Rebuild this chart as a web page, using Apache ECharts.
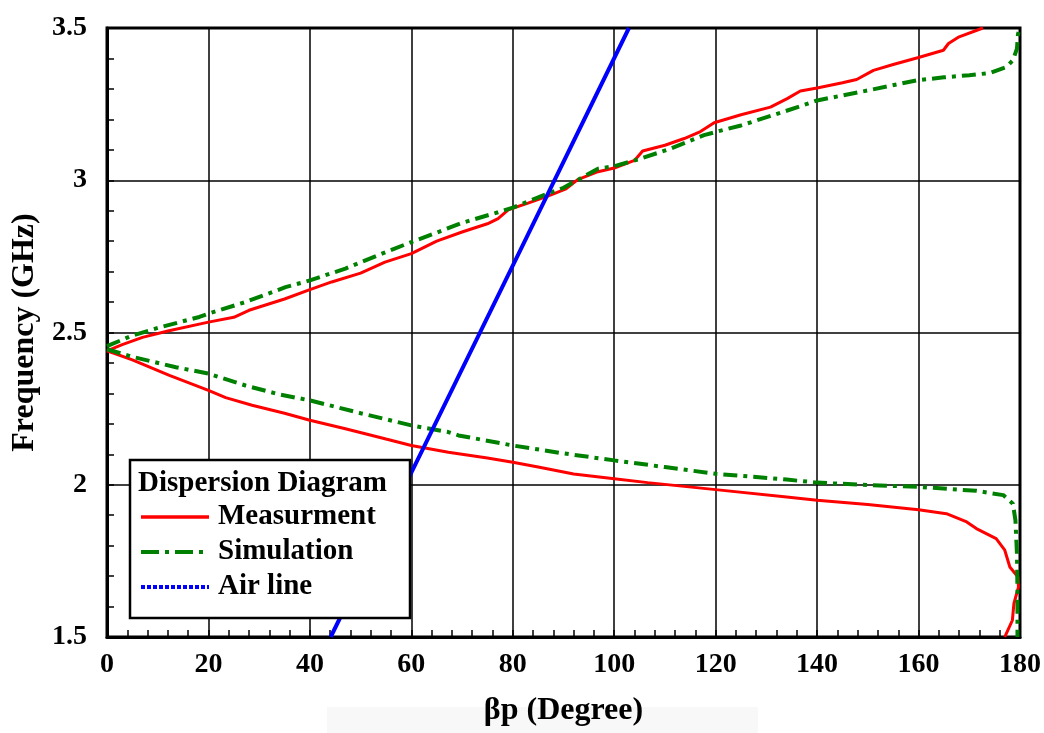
<!DOCTYPE html>
<html>
<head>
<meta charset="utf-8">
<title>Dispersion Diagram</title>
<script src="https://cdn.jsdelivr.net/npm/echarts@6/dist/echarts.min.js"></script>
<style>
  html, body { margin: 0; padding: 0; background: #fff; }
  #chart { width: 1044px; height: 733px; }
</style>
</head>
<body>
<div id="chart"></div>
<script>
// 轴刻度
var xTicks = [0, 20, 40, 60, 80, 100, 120, 140, 160, 180]
var yTicks = [1.5, 2, 2.5, 3, 3.5]

// 测量 上支 [βp, GHz]
var measUpper = [
  [0, 2.44], [3, 2.46], [7, 2.484], [12, 2.505], [20, 2.534], [25, 2.55], [28, 2.573],
  [35, 2.61], [40, 2.641], [44.3, 2.666], [50, 2.695], [54.8, 2.731], [60, 2.759],
  [65, 2.8], [70, 2.83], [75, 2.857], [77.1, 2.874], [79.1, 2.903], [83, 2.925],
  [86.9, 2.948], [90.5, 2.972], [92.8, 3.002], [96.8, 3.028], [100, 3.04], [104, 3.065],
  [105.6, 3.096], [110, 3.115], [113.8, 3.137], [117, 3.16], [119.7, 3.189], [125, 3.215],
  [130.8, 3.24], [134.1, 3.268], [136.7, 3.293], [140, 3.303], [145, 3.32], [147.8, 3.331],
  [151.1, 3.361], [155, 3.38], [160, 3.403], [164.9, 3.427], [165.9, 3.449], [168, 3.471],
  [172.7, 3.5]
]
// 测量 下支
var measLower = [
  [0, 2.44], [5, 2.41], [12.3, 2.359], [20, 2.31], [23.4, 2.286], [28.6, 2.261], [35, 2.235],
  [40, 2.212], [47, 2.184], [55, 2.15], [60, 2.129], [67.3, 2.107], [75, 2.088], [80, 2.074],
  [85, 2.058], [92, 2.035], [100, 2.02], [106.6, 2.007], [120, 1.984], [134, 1.96],
  [140, 1.949], [150, 1.935], [160, 1.918], [165.5, 1.905], [169.5, 1.878], [171.4, 1.856],
  [175.3, 1.823], [177, 1.785], [178, 1.73], [179.6, 1.697], [179.7, 1.664], [178.8, 1.61],
  [178.5, 1.555], [177.3, 1.511], [177, 1.5]
]
// 仿真 上支
var simUpper = [
  [0, 2.455], [5, 2.49], [10, 2.515], [18.2, 2.551], [20, 2.562], [27.3, 2.6], [35.2, 2.649],
  [40, 2.671], [47, 2.71], [54.2, 2.759], [60, 2.797], [65, 2.828], [70, 2.86], [77.1, 2.895],
  [80, 2.91], [86.9, 2.956], [90, 2.975], [96.8, 3.038], [100, 3.046], [105, 3.07],
  [111, 3.103], [117.7, 3.148], [121, 3.163], [125, 3.18], [133.4, 3.225], [140, 3.262],
  [150, 3.295], [159.6, 3.328], [165, 3.338], [170, 3.345], [174, 3.352], [177.3, 3.372],
  [178.6, 3.394], [179.4, 3.432], [179.6, 3.48], [180, 3.5]
]
// 仿真 下支
var simLower = [
  [0, 2.445], [5, 2.42], [13.6, 2.386], [20, 2.365], [27.3, 2.326], [33.9, 2.297], [40, 2.277],
  [50, 2.235], [60, 2.195], [67.3, 2.173], [69.3, 2.162], [80, 2.129], [90, 2.103],
  [100, 2.08], [110, 2.058], [120, 2.036], [134, 2.017], [140, 2.007], [150, 1.999],
  [160, 1.993], [171.4, 1.98], [176.7, 1.966], [178.6, 1.938], [179.1, 1.883], [179.4, 1.774],
  [179.5, 1.65], [179.5, 1.5]
]
// 空气线
var airLine = [[44.1, 1.5], [60, 2.04], [80, 2.72], [102.9, 3.5]]

var serif = '"Liberation Serif", "Times New Roman", serif'
var simDash = [14, 6, 4, 6]

var myChart = echarts.init(document.getElementById('chart'), null, { renderer: 'canvas' })

var option = {
  animation: false,
  backgroundColor: '#fff',
  grid: {
    left: 107,
    right: 21,
    top: 28,
    bottom: 96,
    show: true,
    borderColor: '#000',
    borderWidth: 3,
    backgroundColor: 'transparent'
  },
  xAxis: {
    type: 'value',
    min: xTicks[0],
    max: xTicks[xTicks.length - 1],
    interval: 20,
    name: 'βp (Degree)',
    nameLocation: 'middle',
    nameGap: 58,
    nameTextStyle: { fontFamily: serif, fontWeight: 'bold', fontSize: 32, color: '#000' },
    axisLine: { show: true, lineStyle: { color: '#000', width: 3 } },
    axisTick: { show: true, inside: true, length: 7, lineStyle: { color: '#000', width: 1.5 } },
    minorTick: { show: true, splitNumber: 5, length: 7, lineStyle: { color: '#000', width: 1.5 } },
    axisLabel: { fontFamily: serif, fontWeight: 'bold', fontSize: 28, color: '#000', margin: 14 },
    splitLine: { show: true, lineStyle: { color: '#000', width: 1.5 } }
  },
  yAxis: {
    type: 'value',
    min: yTicks[0],
    max: yTicks[yTicks.length - 1],
    interval: 0.5,
    name: 'Frequency (GHz)',
    nameLocation: 'middle',
    nameGap: 66,
    nameTextStyle: { fontFamily: serif, fontWeight: 'bold', fontSize: 32, color: '#000' },
    axisLine: { show: true, lineStyle: { color: '#000', width: 3 } },
    axisTick: { show: true, inside: true, length: 7, lineStyle: { color: '#000', width: 1.5 } },
    minorTick: { show: true, splitNumber: 5, length: 7, lineStyle: { color: '#000', width: 1.5 } },
    axisLabel: { fontFamily: serif, fontWeight: 'bold', fontSize: 28, color: '#000', margin: 20 },
    splitLine: { show: true, lineStyle: { color: '#000', width: 1.5 } }
  },
  legend: {
    orient: 'vertical',
    left: 134,
    top: 497,
    z: 12,
    itemWidth: 68,
    itemHeight: 14,
    itemGap: 5,
    selectedMode: false,
    itemStyle: { opacity: 0 },
    textStyle: { fontFamily: serif, fontWeight: 'bold', fontSize: 29, color: '#000', lineHeight: 30, padding: [0, 0, 0, 4] },
    data: [
      { name: 'Measurment', lineStyle: { width: 3.5 } },
      { name: 'Simulation', lineStyle: { width: 4, type: [18, 6, 4, 6] } },
      { name: 'Air line', lineStyle: { type: [4, 2], width: 4 } }
    ]
  },
  graphic: [
    {
      type: 'rect',
      z: 0,
      shape: { x: 327, y: 707, width: 431, height: 26 },
      style: { fill: '#f8f8f8' },
      silent: true
    },
    {
      type: 'rect',
      z: 10,
      shape: { x: 130, y: 460, width: 280, height: 158 },
      style: { fill: '#fff', stroke: '#000', lineWidth: 2.5 },
      silent: true
    },
    {
      type: 'text',
      z: 12,
      x: 138,
      y: 484,
      style: {
        text: 'Dispersion Diagram',
        font: 'bold 29px "Liberation Serif", serif',
        fill: '#000',
        verticalAlign: 'middle'
      },
      silent: true
    }
  ],
  series: [
    {
      name: 'Measurment',
      type: 'line',
      showSymbol: false,
      symbol: 'none',
      z: 3,
      color: '#ff0000',
      lineStyle: { color: '#ff0000', width: 3 },
      data: measUpper
    },
    {
      name: 'Measurment',
      type: 'line',
      showSymbol: false,
      symbol: 'none',
      z: 3,
      color: '#ff0000',
      lineStyle: { color: '#ff0000', width: 3 },
      data: measLower
    },
    {
      name: 'Simulation',
      type: 'line',
      showSymbol: false,
      symbol: 'none',
      z: 3,
      color: '#008000',
      lineStyle: { color: '#008000', width: 4, type: simDash },
      data: simUpper
    },
    {
      name: 'Simulation',
      type: 'line',
      showSymbol: false,
      symbol: 'none',
      z: 3,
      color: '#008000',
      lineStyle: { color: '#008000', width: 4, type: simDash },
      data: simLower
    },
    {
      name: 'Air line',
      type: 'line',
      showSymbol: false,
      symbol: 'none',
      z: 3,
      color: '#0000ff',
      lineStyle: { color: '#0000ff', width: 4 },
      data: airLine
    }
  ]
}

myChart.setOption(option)
</script>
</body>
</html>
